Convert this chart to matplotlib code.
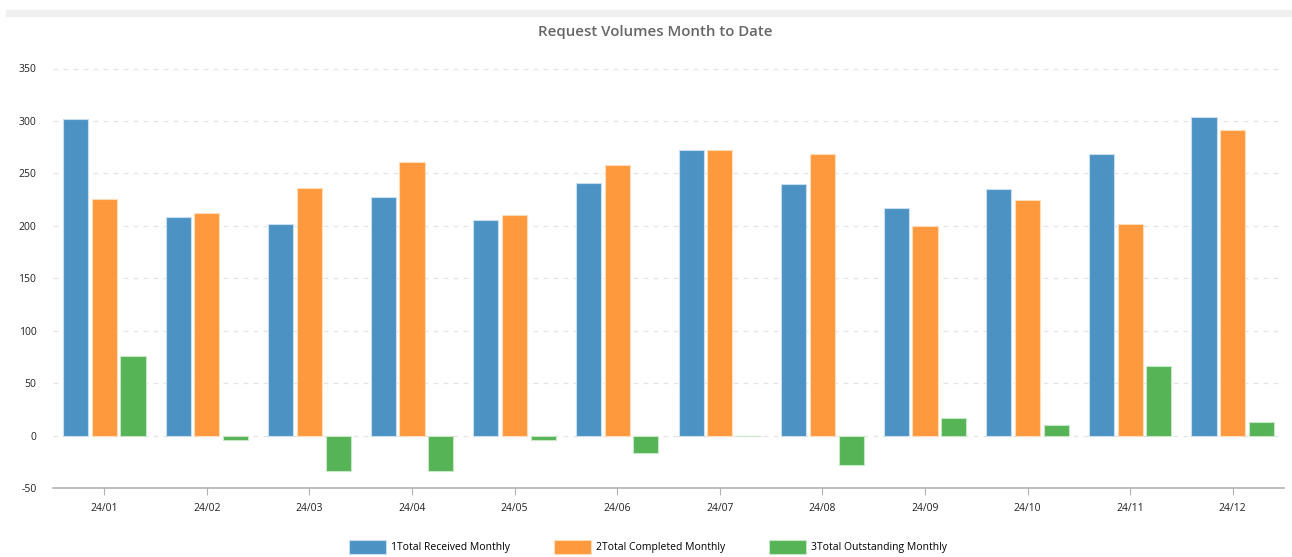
import numpy as np
import matplotlib.pyplot as plt
from matplotlib.patches import Rectangle

# monthly request volumes

months = ["24/01", "24/02", "24/03", "24/04", "24/05", "24/06",
          "24/07", "24/08", "24/09", "24/10", "24/11", "24/12"]
received = [302, 208, 202, 227, 206, 241, 272, 240, 217, 235, 268, 304]
completed = [226, 212, 236, 261, 210, 258, 272, 268, 200, 225, 202, 291]
outstanding = [76, -4, -34, -34, -4, -17, 0, -28, 17, 10, 66, 13]
series_names = ["1Total Received Monthly", "2Total Completed Monthly",
                "3Total Outstanding Monthly"]

plt.rcParams['font.family'] = ['Open Sans', 'DejaVu Sans']
plt.rcParams['axes.unicode_minus'] = False

W, H = 1292, 557
fig = plt.figure(figsize=(W / 100, H / 100), dpi=100)
ax = fig.add_axes([53 / W, 1 - 488 / H, (1284 - 53) / W, (488 - 68.5) / H])

# grey strip along the top
fig.patches.append(Rectangle((6 / W, 1 - 16 / H), 1, 6 / H,
                             transform=fig.transFigure, color="#f0f0f0", zorder=0))

x = np.arange(len(months))
bw = 0.245
off = 0.28
fills = ["#4c92c3", "#ff993e", "#56b356"]
edges = ["#c9def0", "#ffdcb8", "#c6e8c6"]
for k, vals in enumerate([received, completed, outstanding]):
    ax.bar(x + (k - 1) * off, vals, width=bw, color=fills[k],
           edgecolor=edges[k], linewidth=0.8, label=series_names[k], zorder=3)

ax.set_xlim(-0.5, len(months) - 0.5)
ax.set_ylim(-50, 350)
ax.set_yticks(np.arange(-50, 351, 50))
ax.set_xticks(x)
ax.set_xticklabels(months)

for v in range(0, 351, 50):
    ax.axhline(v, color="#e4e4e4", linestyle=(0, (4, 4)), linewidth=0.9, zorder=1)

for s in ["top", "right", "left"]:
    ax.spines[s].set_visible(False)
ax.spines["bottom"].set_color("#b0b0b0")
ax.spines["bottom"].set_linewidth(1.2)
ax.tick_params(axis="y", length=0, pad=12, labelsize=7.5, labelcolor="#222222")
ax.tick_params(axis="x", length=5, color="#b0b0b0", pad=6, labelsize=7.5,
               labelcolor="#222222")

fig.text(655 / W, 1 - 32 / H, "Request Volumes Month to Date", ha="center",
         va="center", fontsize=10.8, fontweight="semibold", color="#666666")

fig.legend(loc="center", bbox_to_anchor=(648 / W, 1 - 547 / H), ncol=3,
           frameon=False, fontsize=7.5, handlelength=3.6, handleheight=1.6,
           handletextpad=0.5, columnspacing=4.15)

fig.savefig("out.png", dpi=100)
